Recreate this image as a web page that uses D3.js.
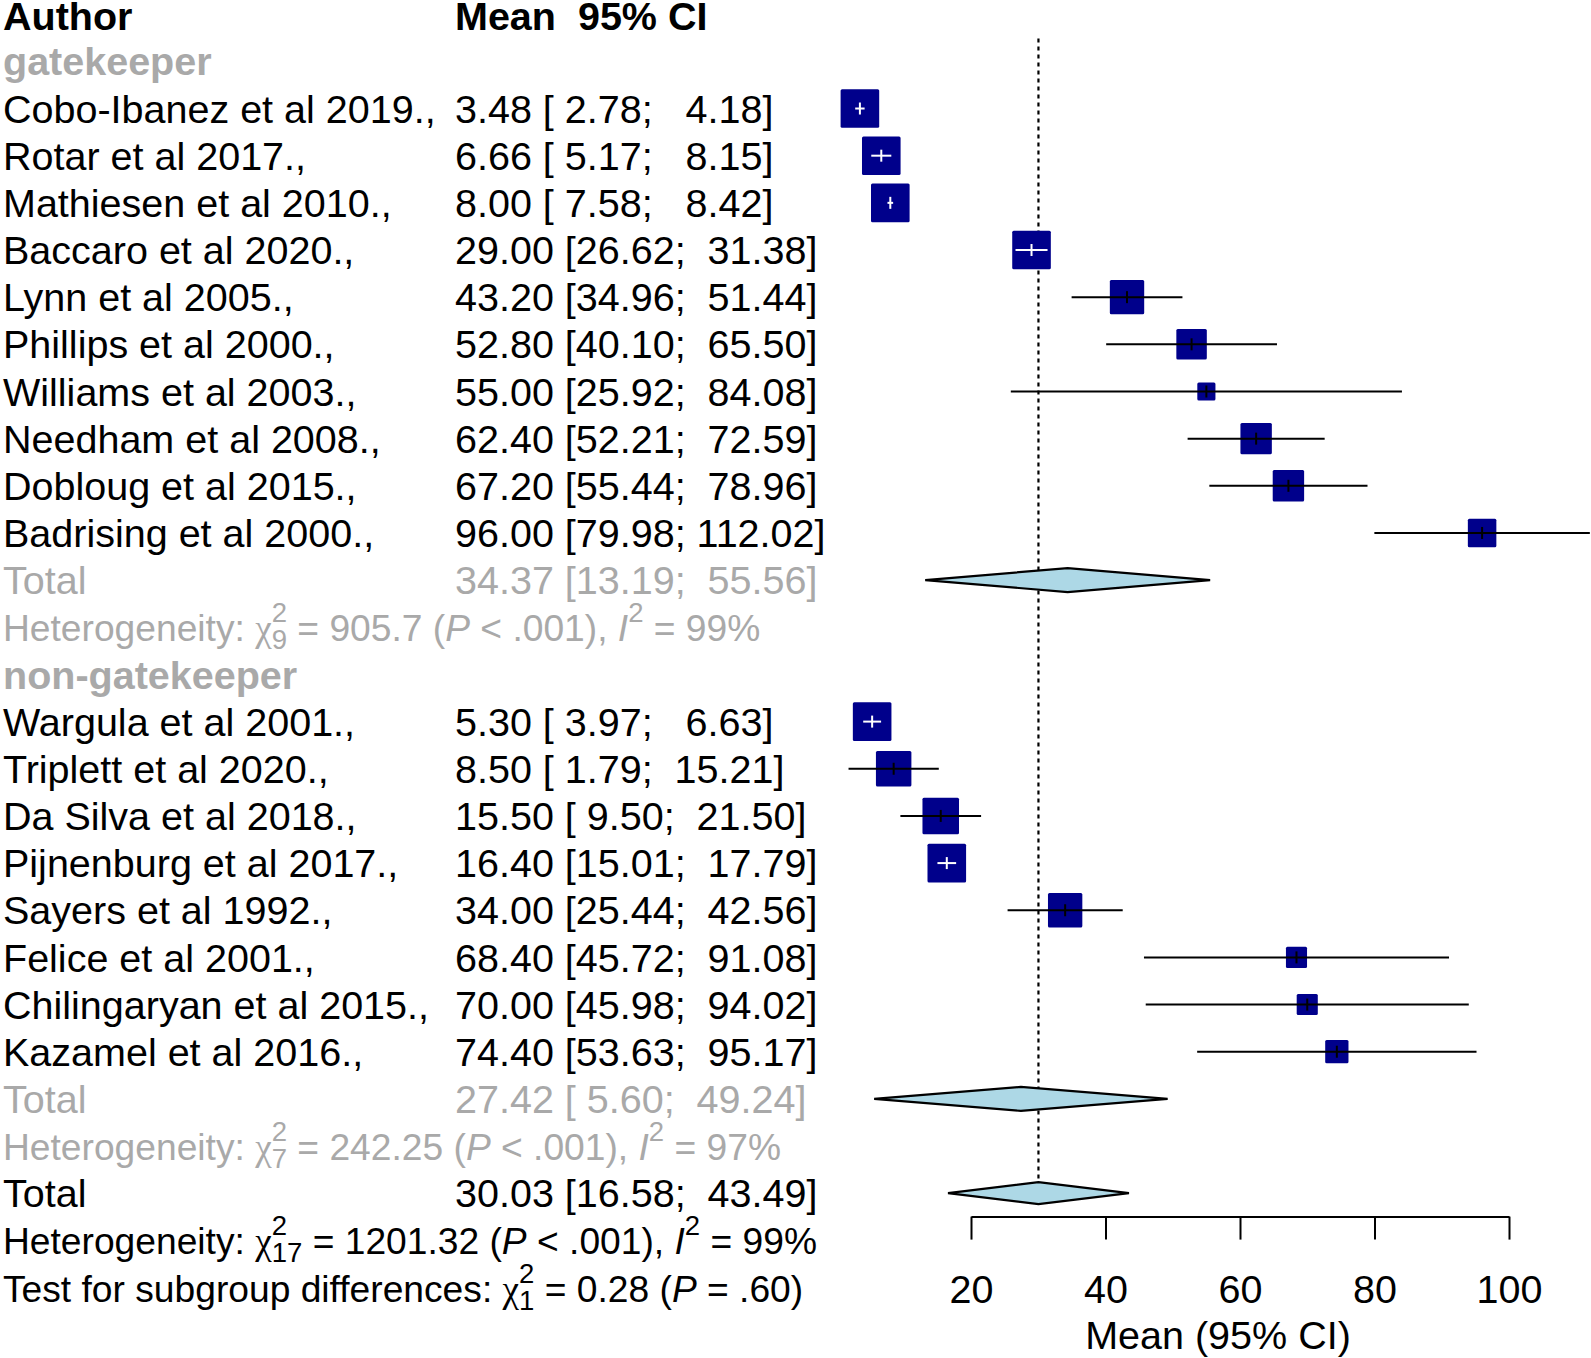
<!DOCTYPE html>
<html>
<head>
<meta charset="utf-8">
<script src="https://cdn.jsdelivr.net/npm/d3@7/dist/d3.min.js"></script>
<style>
  html, body { margin: 0; padding: 0; background: #fff; }
  svg text { white-space: pre; }
</style>
</head>
<body>
<svg id="chart" width="1591" height="1358"></svg>
<script>
// ---------------- DATA ----------------
const groupNames = ["gatekeeper", "non-gatekeeper"];

const studies = [
  "Cobo-Ibanez et al 2019.,", "Rotar et al 2017.,", "Mathiesen et al 2010.,",
  "Baccaro et al 2020.,", "Lynn et al 2005.,", "Phillips et al 2000.,",
  "Williams et al 2003.,", "Needham et al 2008.,", "Dobloug et al 2015.,",
  "Badrising et al 2000.,",
  "Wargula et al 2001.,", "Triplett et al 2020.,", "Da Silva et al 2018.,",
  "Pijnenburg et al 2017.,", "Sayers et al 1992.,", "Felice et al 2001.,",
  "Chilingaryan et al 2015.,", "Kazamel et al 2016.,"
];
const studyGroup = [0,0,0,0,0,0,0,0,0,0, 1,1,1,1,1,1,1,1];
const means = [3.48, 6.66, 8.00, 29.00, 43.20, 52.80, 55.00, 62.40, 67.20, 96.00,
               5.30, 8.50, 15.50, 16.40, 34.00, 68.40, 70.00, 74.40];
const lowers = [2.78, 5.17, 7.58, 26.62, 34.96, 40.10, 25.92, 52.21, 55.44, 79.98,
                3.97, 1.79, 9.50, 15.01, 25.44, 45.72, 45.98, 53.63];
const uppers = [4.18, 8.15, 8.42, 31.38, 51.44, 65.50, 84.08, 72.59, 78.96, 112.02,
                6.63, 15.21, 21.50, 17.79, 42.56, 91.08, 94.02, 95.17];
// approximate random-effects weights (%)
const weights = [7.7, 7.7, 7.7, 7.7, 6.1, 4.8, 1.7, 5.1, 5.1, 4.2,
                 7.7, 6.5, 6.9, 7.7, 6.1, 2.3, 2.3, 2.8];

const groupTotalMean = [34.37, 27.42];
const groupTotalLower = [13.19, 5.60];
const groupTotalUpper = [55.56, 49.24];
const groupHetChi = ["905.7", "242.25"];
const groupHetDf = ["9", "7"];
const groupHetP = [".001", ".001"];
const groupHetI2 = ["99", "97"];

const overallMean = 30.03, overallLower = 16.58, overallUpper = 43.49;
const overallHetChi = "1201.32", overallHetDf = "17", overallHetI2 = "99";
const subgroupChi = "0.28", subgroupDf = "1", subgroupP = ".60";

const xTicks = [20, 40, 60, 80, 100];
const xLabel = "Mean (95% CI)";

// ---------------- LAYOUT ----------------
const svg = d3.select("#chart");
const FONT = "'Liberation Sans', Arial, Helvetica, sans-serif";
const fs = 39.5;      // main text size
const hfs = 37.2;     // heterogeneity / test lines
const GRAY = "#a9a9a9";
const colAuthor = 3, colMean = 455;
const rowY = i => 14.2 + 47.16 * i;          // visual centre of row i
const base = i => rowY(i) + 0.357 * fs;       // text baseline of row i

const x = d3.scaleLinear().domain([20, 100]).range([971, 1509]);
const size = d3.scaleSqrt().domain([0, d3.max(weights)]).range([0, 38.6]);

function fmtCI(m, lo, hi) {
  return m.toFixed(2) + " [" + lo.toFixed(2).padStart(5, " ") + "; " +
         hi.toFixed(2).padStart(6, " ") + "]";
}

function txt(xp, row, s, opts = {}) {
  return svg.append("text")
    .attr("x", xp).attr("y", base(row) + (opts.dy || 0))
    .attr("font-family", FONT)
    .attr("font-size", fs)
    .attr("font-weight", opts.bold ? "bold" : "normal")
    .attr("fill", opts.color || "#000")
    .attr("xml:space", "preserve")
    .text(s);
}

// rich text with italic, superscripts and stacked sup/sub
function rich(xp, row, segs, color) {
  let cx = xp;
  const yb = base(row);
  const sfs = hfs * 0.74;
  const supY = yb - 19, subY = yb + 8;
  segs.forEach(s => {
    if (s.stack) {
      const t1 = svg.append("text").attr("x", cx).attr("y", supY)
        .attr("font-family", FONT).attr("font-size", sfs).attr("fill", color)
        .text(s.stack[0]);
      const t2 = svg.append("text").attr("x", cx).attr("y", subY)
        .attr("font-family", FONT).attr("font-size", sfs).attr("fill", color)
        .text(s.stack[1]);
      cx += Math.max(t1.node().getComputedTextLength(), t2.node().getComputedTextLength());
    } else if (s.sup) {
      const t = svg.append("text").attr("x", cx).attr("y", supY)
        .attr("font-family", FONT).attr("font-size", sfs).attr("fill", color)
        .text(s.sup);
      cx += t.node().getComputedTextLength();
    } else {
      const t = svg.append("text").attr("x", cx).attr("y", yb)
        .attr("font-family", s.serif ? "'Liberation Serif', serif" : FONT)
        .attr("font-size", hfs)
        .attr("font-style", s.it ? "italic" : "normal")
        .attr("fill", color)
        .attr("xml:space", "preserve")
        .text(s.t);
      cx += t.node().getComputedTextLength();
    }
  });
}

function hetSegs(chi, df, p, i2) {
  return [
    {t: "Heterogeneity: "}, {t: "\u03C7", serif: true}, {stack: ["2", df]},
    {t: " = " + chi + " ("}, {t: "P", it: true}, {t: " < " + p + "), "},
    {t: "I", it: true}, {sup: "2"}, {t: " = " + i2 + "%"}
  ];
}

// assign rows
let row = 0;
const headerRow = row++;
const layout = [];
groupNames.forEach((g, gi) => {
  layout.push({type: "group", gi, row: row++});
  studies.forEach((s, si) => {
    if (studyGroup[si] === gi) layout.push({type: "study", si, row: row++});
  });
  layout.push({type: "gtotal", gi, row: row++});
  layout.push({type: "ghet", gi, row: row++});
});
const totalRow = row++;
const hetRow = row++;
const testRow = row++;

// reference (dotted) line at overall mean
svg.append("line")
  .attr("x1", x(overallMean)).attr("x2", x(overallMean))
  .attr("y1", 38.6).attr("y2", rowY(totalRow) - 11)
  .attr("stroke", "#000").attr("stroke-width", 2.2)
  .attr("stroke-dasharray", "4,4");

// header
txt(colAuthor, headerRow, "Author", {bold: true, dy: 2});
txt(colMean, headerRow, "Mean  95% CI", {bold: true, dy: 2});

function diamond(m, lo, hi, r, h) {
  const cy = rowY(r);
  svg.append("polygon")
    .attr("points", [[x(lo), cy], [x(m), cy - h], [x(hi), cy], [x(m), cy + h]].map(p => p.join(",")).join(" "))
    .attr("fill", "#add8e6").attr("stroke", "#000").attr("stroke-width", 2.2)
    .attr("stroke-linejoin", "miter");
}

layout.forEach(d => {
  if (d.type === "group") {
    txt(colAuthor, d.row, groupNames[d.gi], {bold: true, color: GRAY});
  } else if (d.type === "study") {
    const i = d.si, cy = rowY(d.row);
    txt(colAuthor, d.row, studies[i]);
    txt(colMean, d.row, fmtCI(means[i], lowers[i], uppers[i]));
    const s = size(weights[i]);
    const inside = (x(uppers[i]) - x(lowers[i])) < s;
    const lc = inside ? "#fff" : "#000";
    svg.append("rect")
      .attr("x", x(means[i]) - s / 2).attr("y", cy - s / 2)
      .attr("width", s).attr("height", s).attr("rx", 1.5)
      .attr("fill", "#00008b");
    svg.append("line")
      .attr("x1", x(lowers[i])).attr("x2", x(uppers[i]))
      .attr("y1", cy).attr("y2", cy)
      .attr("stroke", lc).attr("stroke-width", 2);
    svg.append("line")
      .attr("x1", x(means[i])).attr("x2", x(means[i]))
      .attr("y1", cy - 6).attr("y2", cy + 6)
      .attr("stroke", lc).attr("stroke-width", 2);
  } else if (d.type === "gtotal") {
    txt(colAuthor, d.row, "Total", {color: GRAY});
    txt(colMean, d.row, fmtCI(groupTotalMean[d.gi], groupTotalLower[d.gi], groupTotalUpper[d.gi]), {color: GRAY});
    diamond(groupTotalMean[d.gi], groupTotalLower[d.gi], groupTotalUpper[d.gi], d.row, 12);
  } else if (d.type === "ghet") {
    rich(colAuthor, d.row, hetSegs(groupHetChi[d.gi], groupHetDf[d.gi], groupHetP[d.gi], groupHetI2[d.gi]), GRAY);
  }
});

// overall
txt(colAuthor, totalRow, "Total");
txt(colMean, totalRow, fmtCI(overallMean, overallLower, overallUpper));
diamond(overallMean, overallLower, overallUpper, totalRow, 11);
rich(colAuthor, hetRow, hetSegs(overallHetChi, overallHetDf, ".001", overallHetI2), "#000");
rich(colAuthor, testRow, [
  {t: "Test for subgroup differences: "}, {t: "\u03C7", serif: true}, {stack: ["2", subgroupDf]},
  {t: " = " + subgroupChi + " ("}, {t: "P", it: true}, {t: " = " + subgroupP + ")"}
], "#000");

// x axis
const axisY = 1216.6;
const ax = svg.append("g")
  .attr("transform", `translate(0,${axisY})`)
  .call(d3.axisBottom(x).tickValues(xTicks).tickSize(23).tickSizeOuter(0).tickPadding(35).tickFormat(d3.format("d")));
ax.select(".domain").attr("stroke", "#000").attr("stroke-width", 2);
ax.selectAll(".tick line").attr("stroke", "#000").attr("stroke-width", 2);
ax.selectAll(".tick text").attr("font-family", FONT).attr("font-size", fs).attr("fill", "#000");

svg.append("text")
  .attr("x", 1218).attr("y", 1349)
  .attr("text-anchor", "middle")
  .attr("font-family", FONT).attr("font-size", fs)
  .text(xLabel);
</script>
</body>
</html>
